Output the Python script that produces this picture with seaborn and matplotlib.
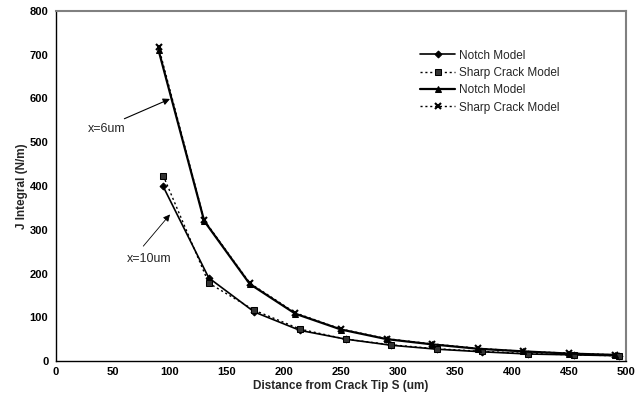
import matplotlib
matplotlib.use("Agg")
import matplotlib.pyplot as plt
import seaborn as sns
import pandas as pd

sns.set_style("white")
plt.rcParams['font.family'] = ['Liberation Sans', 'DejaVu Sans']

# x = 6 um series
x6 = [90, 130, 170, 210, 250, 290, 330, 370, 410, 450, 490]
notch6 = [710, 320, 176, 108, 72, 50, 38, 28, 22, 17, 14]
sharp6 = [718, 322, 178, 110, 73, 51, 39, 29, 22, 18, 14]
# x = 10 um series
x10 = [94, 134, 174, 214, 254, 294, 334, 374, 414, 454, 494]
notch10 = [399, 190, 112, 70, 50, 36, 27, 21, 16, 14, 12]
sharp10 = [424, 178, 116, 73, 50, 37, 28, 22, 17, 14, 12]

xticks = [0, 50, 100, 150, 200, 250, 300, 350, 400, 450, 500]
yticks = [0, 100, 200, 300, 400, 500, 600, 700, 800]

fig = plt.figure(figsize=(6.38, 4.04), dpi=100)
ax = fig.add_axes([56/638, 43/404, 570/638, 350/404])

series = [
    (x10, notch10, "Notch Model", dict(marker="D", markersize=3.5, linestyle="-", linewidth=1.2)),
    (x10, sharp10, "Sharp Crack Model", dict(marker="s", markersize=4, linestyle=(0, (1.5, 2)), linewidth=1.0)),
    (x6, notch6, "Notch Model", dict(marker="^", markersize=4.5, linestyle="-", linewidth=1.6)),
    (x6, sharp6, "Sharp Crack Model", dict(marker="x", markersize=4.5, markeredgewidth=1.5, linestyle=(0, (1.5, 2)), linewidth=1.0)),
]
for xs, ys, lab, kw in series:
    df = pd.DataFrame({"x": xs, "y": ys})
    sns.lineplot(data=df, x="x", y="y", ax=ax, color="black", label=lab,
                 markeredgecolor="black", markerfacecolor="#333333" if kw["marker"] == "s" else "black",
                 **kw)

ax.set_xlim(0, 500)
ax.set_ylim(0, 800)
ax.set_xticks(xticks)
ax.set_yticks(yticks)
ax.tick_params(axis="both", direction="inout", length=5, width=0.8, labelsize=8, colors="black")
ax.tick_params(axis="x", pad=2)
ax.tick_params(axis="y", pad=3)
for lab in ax.get_xticklabels() + ax.get_yticklabels():
    lab.set_fontweight("bold")
ax.set_xlabel("Distance from Crack Tip S (um)", fontsize=8.5, fontweight="bold", labelpad=2)
ax.set_ylabel("J Integral (N/m)", fontsize=8.5, fontweight="bold")
ax.yaxis.set_label_coords(-0.05, 0.5)

for s in ["left", "bottom"]:
    ax.spines[s].set_color("black")
    ax.spines[s].set_linewidth(1.0)
for s in ["top", "right"]:
    ax.spines[s].set_visible(True)
    ax.spines[s].set_color("#808080")
    ax.spines[s].set_linewidth(1.5)

ax.annotate("x=6um", xy=(100, 599), xytext=(28, 530), fontsize=9,
            ha="left", va="center",
            arrowprops=dict(arrowstyle="-|>", color="black", lw=0.8, mutation_scale=10,
                            shrinkA=2, shrinkB=0, relpos=(0.7, 1.0)))
ax.annotate("x=10um", xy=(100, 335), xytext=(62, 234), fontsize=9,
            ha="left", va="center",
            arrowprops=dict(arrowstyle="-|>", color="black", lw=0.6, mutation_scale=10,
                            shrinkA=3, shrinkB=0, relpos=(0.25, 1.0)))

leg = ax.legend(loc="upper left", bbox_to_anchor=(0.62, 0.92), frameon=False,
                fontsize=8.5, handlelength=3.0, labelspacing=0.45, handletextpad=0.3)

fig.savefig("out.png", dpi=100)
